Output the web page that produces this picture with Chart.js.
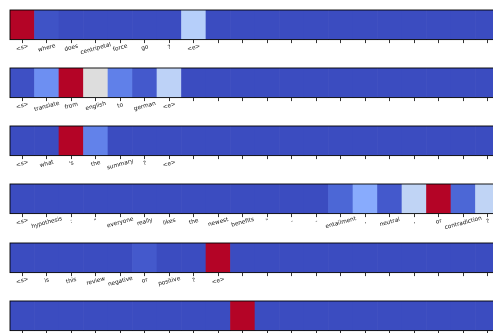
<!DOCTYPE html>
<html><head><meta charset="utf-8">
<script src="https://cdn.jsdelivr.net/npm/chart.js@4"></script>
<style>
html,body{margin:0;padding:0;overflow:hidden;background:#fff;width:493px;height:333px}
#wrap{position:relative;width:493px;height:333px;overflow:hidden}
.row{position:absolute;left:0;width:510px;height:58px}
</style></head><body><div id="wrap"></div>
<script>
// ---- data ----
const tokens1 = ['<s>','where','does','centripetal','force','go','?','<e>'];
const weights1 = [1.0,0.015,0,0,0,0,0,0.37,0,0,0,0,0,0,0,0,0,0,0,0];

const tokens2 = ['<s>','translate','from','english','to','german','<e>'];
const weights2 = [0.01,0.16,1.0,0.5,0.12,0.03,0.39,0,0,0,0,0,0,0,0,0,0,0,0,0];

const tokens3 = ['<s>','what',"'s",'the','summary','?','<e>'];
const weights3 = [0,0,1.0,0.125,0,0,0,0,0,0,0,0,0,0,0,0,0,0,0,0];

const tokens4 = ['<s>','hypothesis',':','"','everyone','really','likes','the','newest','benefits','"','-','-','entailment',',','neutral',',','or','contradiction','?'];
const weights4 = [0,0,0,0,0,0,0,0,0,0,0,0,0,0.06,0.235,0.03,0.40,1.0,0.06,0.40];

const tokens5 = ['<s>','is','this','review','negative','or','positive','?','<e>'];
const weights5 = [0,0,0,0,0,0.03,0,0,1.0,0,0,0,0,0,0,0,0,0,0,0];

const tokens6 = [];
const weights6 = [0,0,0,0,0,0,0,0,0,1.0,0,0,0,0,0,0,0,0,0,0];

const nCols = 20;
const rowTokens = [tokens1,tokens2,tokens3,tokens4,tokens5,tokens6];
const rowWeights = [weights1,weights2,weights3,weights4,weights5,weights6];

// ---- coolwarm colormap (Moreland) ----
const coolwarm = [
[59,76,192],[68,90,204],[77,104,215],[87,117,225],[98,130,234],[108,142,241],[119,154,247],[130,165,251],
[141,176,254],[152,185,255],[163,194,255],[174,201,253],[184,208,249],[194,213,244],[204,217,238],[213,219,230],
[221,221,221],[229,216,209],[236,211,197],[241,204,184],[245,196,172],[247,187,159],[247,177,147],[247,166,134],
[244,154,123],[241,141,111],[236,127,99],[229,112,89],[222,96,77],[213,80,66],[203,62,56],[192,40,47],[180,4,38]];
function cmap(v){
  v=Math.max(0,Math.min(1,v));
  const p=v*(coolwarm.length-1), i=Math.min(Math.floor(p),coolwarm.length-2), f=p-i;
  const a=coolwarm[i], b=coolwarm[i+1];
  return 'rgb('+a.map((c,k)=>Math.round(c+(b[k]-c)*f)).join(',')+')';
}

// ---- layout ----
const rowTops = [10,68,126,184,242.5,300.5];
const plotH = 29.6;
const padTop = 10;
const canvasH = 58;

const labelPlugin = {
  id:'rotLabels',
  afterDraw(chart){
    const ctx=chart.ctx, ca=chart.chartArea, xs=chart.scales.x;
    // frame
    ctx.save();
    ctx.strokeStyle='#000'; ctx.lineWidth=0.9;
    ctx.strokeRect(ca.left,ca.top,ca.right-ca.left,ca.bottom-ca.top);
    // labels
    const labs=chart.data.labels;
    ctx.font='5.8px "DejaVu Sans"';
    ctx.fillStyle='#111';
    ctx.textAlign='center'; ctx.textBaseline='middle';
    const th=15*Math.PI/180;
    labs.forEach((t,i)=>{
      if(!t) return;
      const x=xs.getPixelForValue(i);
      const w=ctx.measureText(t).width;
      const cy=ca.bottom+7.6+0.045*w;
      ctx.save();
      ctx.translate(x,cy); ctx.rotate(-th);
      ctx.fillText(t,0,0);
      ctx.restore();
    });
    ctx.restore();
  }
};

const wrap=document.getElementById('wrap');
rowWeights.forEach((wts,r)=>{
  const div=document.createElement('div');
  div.className='row';
  div.style.top=(rowTops[r]-padTop)+'px';
  const cv=document.createElement('canvas');
  cv.width=510; cv.height=canvasH;
  cv.style.width='510px'; cv.style.height=canvasH+'px';
  div.appendChild(cv); wrap.appendChild(div);
  const labels=[];
  for(let i=0;i<nCols;i++) labels.push(rowTokens[r][i]||'');
  new Chart(cv,{
    type:'bar',
    data:{labels:labels,datasets:[{
      data:wts.map(()=>1),
      backgroundColor:wts.map(cmap),
      borderWidth:0,barPercentage:1,categoryPercentage:1
    }]},
    options:{
      responsive:false,animation:false,devicePixelRatio:1,
      layout:{padding:{left:10,right:10,top:padTop,bottom:0}},
      plugins:{legend:{display:false},tooltip:{enabled:false}},
      scales:{
        x:{
          grid:{display:true,offset:false,drawOnChartArea:false,drawTicks:true,tickLength:3.5,color:'#000',lineWidth:0.8},
          border:{display:false},
          ticks:{display:false,autoSkip:false},
          afterFit:s=>{s.height=canvasH-padTop-plotH;}
        },
        y:{display:false,min:0,max:1}
      }
    },
    plugins:[labelPlugin]
  });
});
</script></body></html>
